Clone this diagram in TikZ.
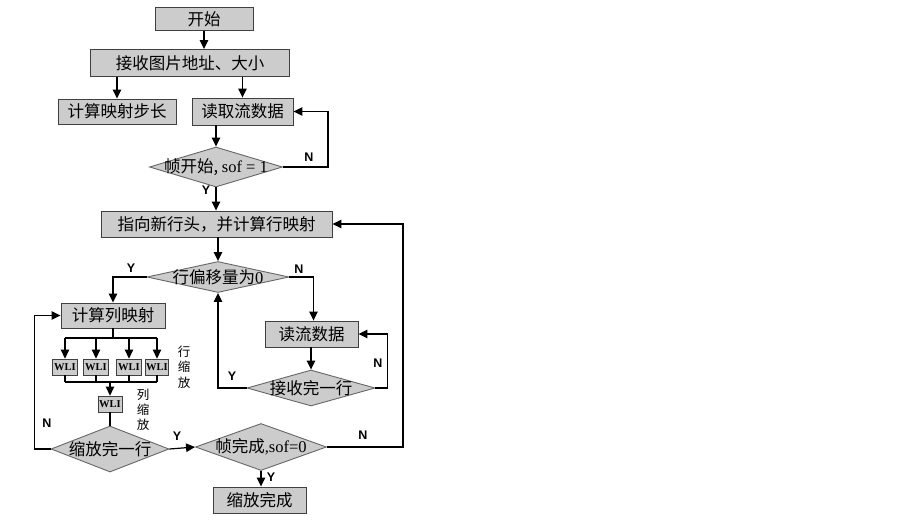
\documentclass[tikz,border=0pt]{standalone}
\usepackage{fontspec}
\setmainfont{Liberation Serif}
\setsansfont{Liberation Sans}
\newfontfamily\cjk{Noto Sans CJK SC}
\usetikzlibrary{shapes.geometric,arrows.meta}
\begin{document}
\begin{tikzpicture}[x=1pt,y=-1pt,
  line width=1.2pt,
  arr/.style={-{Triangle[length=9pt,width=8.5pt]}},
  box/.style={draw=black!75,fill=gray!40,line width=0.9pt,inner sep=0pt,
    font=\fontsize{16.5}{19}\selectfont\cjk},
  wli/.style={draw=black!75,fill=gray!40,line width=0.8pt,inner sep=0pt,
    minimum width=25pt,minimum height=16pt,font=\fontsize{10.5}{12}\selectfont\bfseries},
  dia/.style={diamond,draw=black!60,fill=gray!40,line width=0.9pt,inner sep=0pt},
  dtext/.style={font=\fontsize{16.5}{19}\selectfont\cjk},
  yn/.style={font=\fontsize{12.5}{14}\selectfont\sffamily\bfseries},
  vlab/.style={font=\fontsize{12.5}{14}\selectfont\cjk,inner sep=0pt}]
\useasboundingbox (0,0) rectangle (900,520);
% nodes
\node[box,minimum width=98pt,minimum height=23pt] (start) at (204,19) {开始};
\node[box,minimum width=199pt,minimum height=27pt] (recv) at (190,63) {接收图片地址、大小};
\node[box,minimum width=118pt,minimum height=25pt] (stepb) at (117,111.5) {计算映射步长};
\node[box,minimum width=101pt,minimum height=27pt] (read) at (242.5,111.5) {读取流数据};
\node[dia,minimum width=133pt,minimum height=40pt] (d1) at (216,167) {};
\node[dtext] at (d1) {帧开始, {\rmfamily sof = 1}};
\node[box,minimum width=231pt,minimum height=26pt] (newrow) at (216.5,224) {指向新行头，并计算行映射};
\node[dia,minimum width=142pt,minimum height=31pt] (d2) at (218,277) {};
\node[dtext] at (d2) {行偏移量为{\rmfamily 0}};
\node[box,minimum width=104pt,minimum height=25pt] (colmap) at (113,315.5) {计算列映射};
\node[box,minimum width=93pt,minimum height=26pt] (readrow) at (311.5,334) {读流数据};
\node[dia,minimum width=128pt,minimum height=36pt] (d3) at (311,388) {};
\node[dtext] at (d3) {接收完一行};
\node[wli] (w1) at (65,367) {WLI};
\node[wli] (w2) at (96,367) {WLI};
\node[wli] (w3) at (129,367) {WLI};
\node[wli,minimum width=23pt] (w4) at (157,367) {WLI};
\node[wli,minimum width=24pt] (w5) at (110,404) {WLI};
\node[dia,minimum width=118pt,minimum height=46pt] (d4) at (110,449) {};
\node[dtext] at (d4) {缩放完一行};
\node[dia,minimum width=131pt,minimum height=47pt] (d5) at (261,447) {};
\node[dtext] at (d5) {帧完成{\rmfamily ,sof=0}};
\node[box,minimum width=93pt,minimum height=26pt] (done) at (259.5,500) {缩放完成};
% vertical labels
\node[vlab] (l1) at (184,352) {行};
\node[vlab] (l2) at (184,367) {缩};
\node[vlab] (l3) at (184,383) {放};
\node[vlab] (l4) at (143,395) {列};
\node[vlab] (l5) at (143,410) {缩};
\node[vlab] (l6) at (143,425) {放};
% connectors
\draw[arr] (start.south) -- (start.south |- recv.north);
\draw[arr] (recv.south -| stepb.north) -- (stepb.north);
\draw[arr] (recv.south -| read.north) -- (read.north);
\draw[arr] (read.south -| d1.north) -- (d1.north);
\draw[arr] (d1.east) -- ++(45,0) |- (read.east);
\node[yn] (n1) at (309,157) {N};
\draw[arr] (d1.south) -- (newrow.north -| d1.south);
\node[yn] (y1) at (206,190) {Y};
\draw[arr] (newrow.south -| d2.north) -- (d2.north);
\draw[arr] (d2.west) -| (colmap.north);
\node[yn] (y2) at (131,268) {Y};
\draw[arr] (d2.east) -| ([xshift=2pt]readrow.north);
\node[yn] (n2) at (299,269) {N};
\draw[arr] (readrow.south -| d3.north) -- (d3.north);
\draw[arr] (d3.east) -- ++(12,0) |- (readrow.east);
\node[yn] (n3) at (378,363) {N};
\draw[arr] (d3.west) -| (d2.south);
\node[yn] (y3) at (232,376) {Y};
% WLI bus
\coordinate (bus1) at (113,338);
\coordinate (bus2) at (113,382);
\draw (colmap.south) -- (colmap.south |- bus1);
\draw (w1.north |- bus1) -- (w4.north |- bus1);
\foreach \w in {w1,w2,w3,w4} {
  \draw[arr] (\w.north |- bus1) -- (\w.north);
  \draw (\w.south) -- (\w.south |- bus2);
}
\draw (w1.south |- bus2) -- (w4.south |- bus2);
\draw[arr] (w5.north |- bus2) -- (w5.north);
\draw (w5.south) -- (d4.north);
\draw[arr] (d4.west) -- ++(-16,0) |- (colmap.west);
\node[yn] (n4) at (47,423) {N};
\draw[arr] (d4.east) -- (d5.west);
\node[yn] (y4) at (177,436) {Y};
\draw[arr] (d5.east) -- (403,447) |- (newrow.east);
\node[yn] (n5) at (363,435) {N};
\draw[arr] (d5.south) -- (done.north -| d5.south);
\node[yn] (y5) at (271,477) {Y};
\end{tikzpicture}
\end{document}
